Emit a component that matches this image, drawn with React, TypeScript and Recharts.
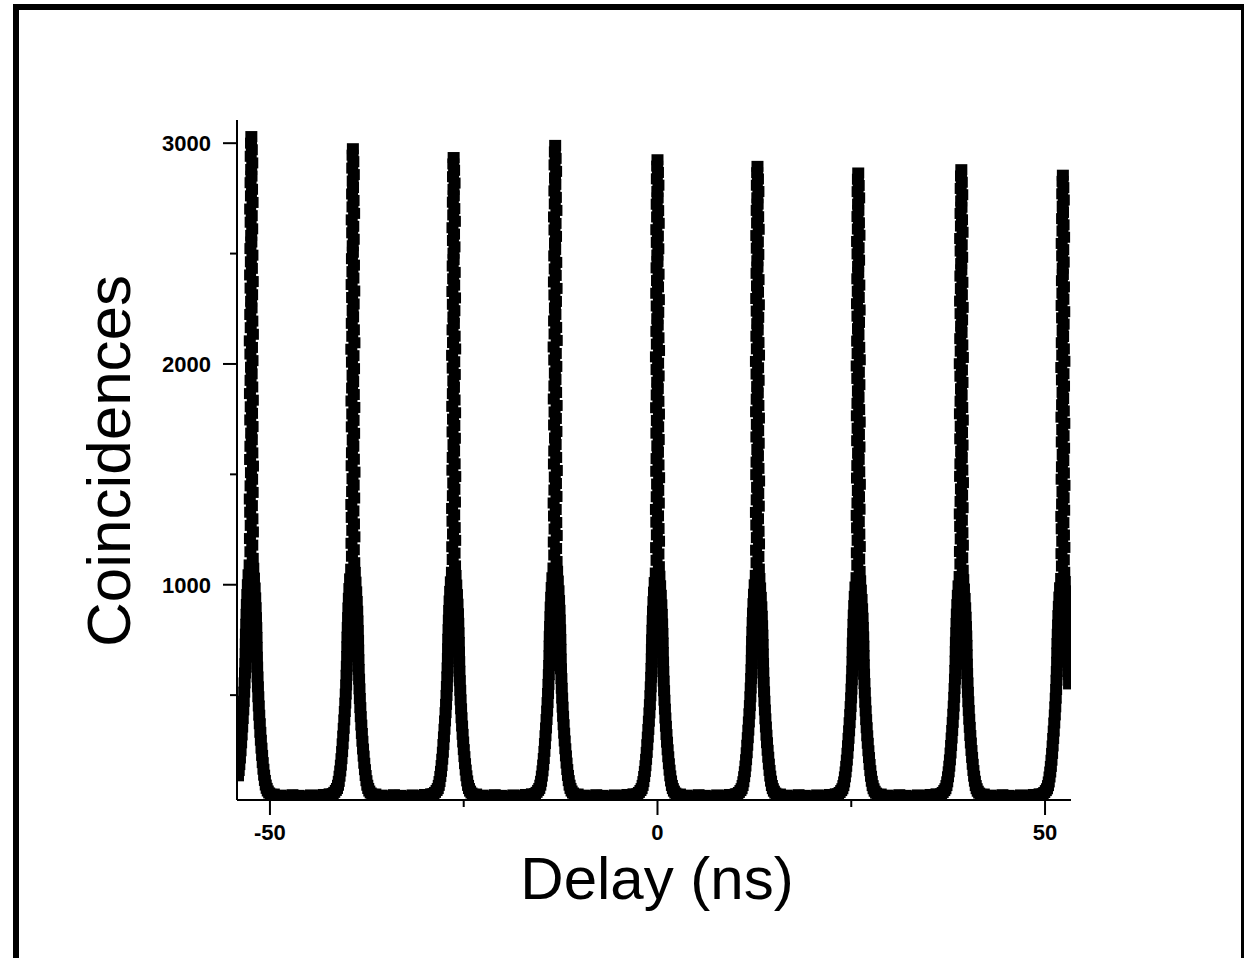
import { ScatterChart, Scatter, XAxis, YAxis } from "recharts";

// peak positions (ns) and peak maxima (counts)
const PEAK_DELAY = [-52.4, -39.3, -26.3, -13.2, 0, 12.9, 25.9, 39.2, 52.3];
const PEAK_MAX = [3030, 2975, 2935, 2990, 2925, 2895, 2865, 2880, 2855];
const BACKGROUND = 45;

// sampled shape of one peak: [offset from centre (ns), fraction of peak height]
const PEAK_SHAPE: [number, number][] = [
  // left skirt
  [-2.6, 0.003], [-2.4, 0.005], [-2.2, 0.008], [-2.05, 0.011], [-1.92, 0.016],
  [-1.82, 0.022], [-1.72, 0.03], [-1.63, 0.038], [-1.55, 0.047], [-1.47, 0.057],
  [-1.39, 0.068], [-1.32, 0.08], [-1.25, 0.092], [-1.18, 0.104], [-1.11, 0.117],
  [-1.04, 0.13], [-0.98, 0.143], [-0.92, 0.157], [-0.87, 0.171], [-0.82, 0.186],
  [-0.78, 0.2], [-0.74, 0.215], [-0.72, 0.23], [-0.7, 0.245], [-0.66, 0.26],
  [-0.62, 0.275], [-0.58, 0.29], [-0.52, 0.305], [-0.45, 0.32], [-0.36, 0.335],
  // narrow top
  [-0.22, 0.35], [-0.12, 0.37], [-0.18, 0.39], [-0.08, 0.41], [-0.15, 0.43],
  [-0.2, 0.45], [-0.1, 0.47], [-0.05, 0.49], [-0.16, 0.51], [-0.12, 0.53],
  [-0.02, 0.55], [-0.14, 0.57], [-0.08, 0.59], [-0.18, 0.61], [-0.1, 0.63],
  [-0.04, 0.65], [-0.12, 0.67], [-0.2, 0.69], [-0.08, 0.71], [-0.14, 0.73],
  [-0.03, 0.75], [-0.1, 0.77], [-0.16, 0.79], [-0.06, 0.81], [-0.12, 0.83],
  [-0.02, 0.85], [-0.09, 0.87], [-0.15, 0.89], [-0.05, 0.91], [-0.1, 0.93],
  [-0.02, 0.95], [-0.08, 0.97], [-0.04, 0.99],
  [0.0, 1.0], [0.06, 0.98], [0.12, 0.96], [0.02, 0.94], [0.09, 0.92],
  [0.16, 0.9], [0.05, 0.88], [0.11, 0.86], [0.0, 0.84], [0.14, 0.82],
  [0.07, 0.8], [0.18, 0.78], [0.1, 0.76], [0.03, 0.74], [0.13, 0.72],
  [0.2, 0.7], [0.08, 0.68], [0.15, 0.66], [0.04, 0.64], [0.12, 0.62],
  [0.19, 0.6], [0.09, 0.58], [0.16, 0.56], [0.06, 0.54], [0.13, 0.52],
  [0.21, 0.5], [0.1, 0.48], [0.17, 0.46], [0.07, 0.44], [0.14, 0.42],
  [0.2, 0.4], [0.12, 0.38], [0.18, 0.36], [0.25, 0.345],
  // right skirt
  [0.34, 0.33], [0.43, 0.315], [0.5, 0.3], [0.56, 0.285], [0.6, 0.27],
  [0.64, 0.255], [0.67, 0.24], [0.69, 0.225], [0.72, 0.21], [0.75, 0.195],
  [0.8, 0.18], [0.85, 0.165], [0.9, 0.15], [0.96, 0.136], [1.02, 0.122],
  [1.09, 0.109], [1.16, 0.096], [1.23, 0.084], [1.31, 0.072], [1.39, 0.061],
  [1.47, 0.05], [1.56, 0.04], [1.65, 0.031], [1.75, 0.023], [1.86, 0.016],
  [1.98, 0.011], [2.12, 0.007], [2.3, 0.004], [2.5, 0.002],
];

// flat background between peaks: [offset after peak centre (ns), counts]
const GAP_SAMPLES: [number, number][] = [
  [2.9, 52], [3.7, 47], [4.5, 44], [5.3, 49], [6.1, 46],
  [6.9, 43], [7.7, 48], [8.5, 45], [9.3, 50], [10.1, 53],
];

const X_TICKS = [-50, -25, 0, 25, 50];
const X_LABELS = [-50, 0, 50];
const Y_TICKS = [500, 1000, 1500, 2000, 2500, 3000];
const Y_LABELS = [1000, 2000, 3000];

const FONT = "Arial, 'Liberation Sans', sans-serif";

const points: { t: number; v: number }[] = [];
PEAK_DELAY.forEach((c, i) => {
  PEAK_SHAPE.forEach(([dt, f]) => {
    points.push({ t: c + dt, v: BACKGROUND + (PEAK_MAX[i] - BACKGROUND) * f });
  });
  if (i < PEAK_DELAY.length - 1) {
    GAP_SAMPLES.forEach(([dt, v]) => points.push({ t: c + dt, v }));
  }
});
const data = points.filter((p) => p.t >= -54.2 && p.t <= 53.1);

const XTick = (props: any) => {
  const { x, y, payload } = props;
  const major = X_LABELS.includes(payload.value);
  return (
    <g>
      <line x1={x} y1={y} x2={x} y2={y + (major ? 15 : 7)} stroke="#000" strokeWidth={2} />
      {major && (
        <text x={x} y={y + 40} textAnchor="middle" fontFamily={FONT} fontWeight="bold" fontSize={22} fill="#000">
          {payload.value}
        </text>
      )}
    </g>
  );
};

const YTick = (props: any) => {
  const { x, y, payload } = props;
  const major = Y_LABELS.includes(payload.value);
  return (
    <g>
      <line x1={x} y1={y} x2={x - (major ? 14 : 7)} y2={y} stroke="#000" strokeWidth={2} />
      {major && (
        <text x={x - 26} y={y + 8} textAnchor="end" fontFamily={FONT} fontWeight="bold" fontSize={22} fill="#000">
          {payload.value}
        </text>
      )}
    </g>
  );
};

const Marker = (props: any) => (
  <rect x={props.cx - 6} y={props.cy - 5.5} width={12} height={11} fill="#000" />
);

export default function App() {
  return (
    <div style={{ position: "absolute", left: 0, top: 0, width: 1244, height: 958, background: "#fff", overflow: "hidden" }}>
      {/* outer frame */}
      <div style={{ position: "absolute", left: 13, top: 4, width: 1234, height: 1000, border: "6px solid #000", boxSizing: "border-box" }} />

      <div style={{ position: "absolute", left: 0, top: 0 }}>
        <ScatterChart width={1244} height={958} margin={{ top: 120, right: 173, bottom: 157, left: 236 }}>
          <XAxis
            type="number"
            dataKey="t"
            domain={[-54.25, 53.35]}
            ticks={X_TICKS}
            height={1}
            tickSize={0}
            tickMargin={0}
            tickLine={false}
            tick={<XTick />}
            axisLine={{ stroke: "#000", strokeWidth: 2 }}
            allowDataOverflow
            interval={0}
          />
          <YAxis
            type="number"
            dataKey="v"
            domain={[25, 3105]}
            ticks={Y_TICKS}
            width={1}
            tickSize={0}
            tickMargin={0}
            tickLine={false}
            tick={<YTick />}
            axisLine={{ stroke: "#000", strokeWidth: 2 }}
            allowDataOverflow
            interval={0}
          />
          <Scatter data={data} shape={Marker} isAnimationActive={false} />
        </ScatterChart>
      </div>

      {/* axis titles */}
      <svg width={1244} height={958} style={{ position: "absolute", left: 0, top: 0, pointerEvents: "none" }}>
        <text x={657} y={899} textAnchor="middle" fontFamily={FONT} fontSize={60} fill="#000">
          Delay (ns)
        </text>
        <text x={130} y={461} textAnchor="middle" fontFamily={FONT} fontSize={62} fill="#000" transform="rotate(-90, 130, 461)">
          Coincidences
        </text>
      </svg>
    </div>
  );
}
